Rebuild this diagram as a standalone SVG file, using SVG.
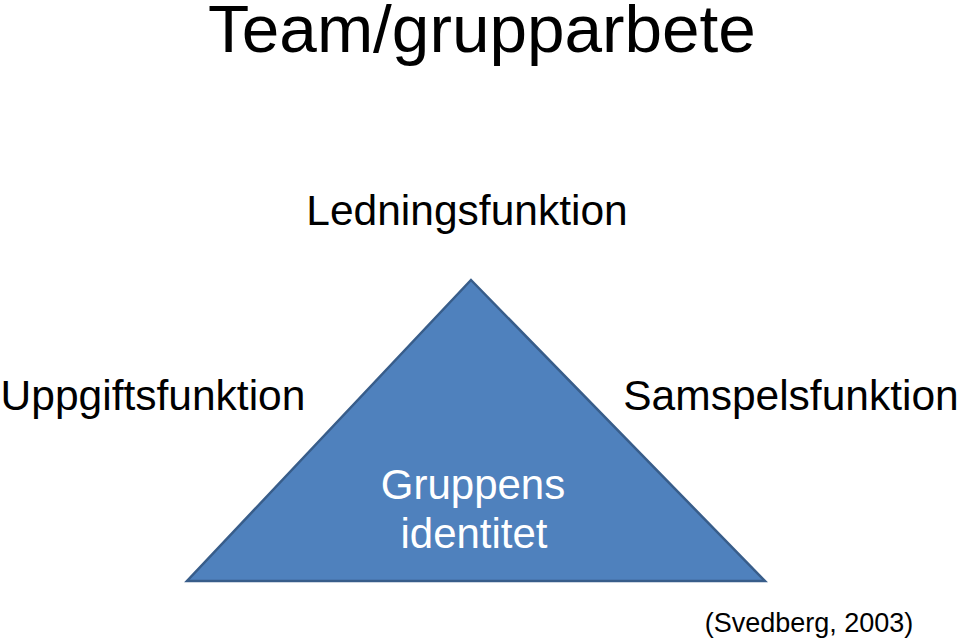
<svg xmlns="http://www.w3.org/2000/svg" width="960" height="641" viewBox="0 0 960 641">
<style>
text{font-family:"Liberation Sans",Arial,sans-serif;fill:#000;text-anchor:middle}
.lbl{font-size:42.5px}
.inner{font-size:42px;fill:#fff}
</style>
<rect width="960" height="641" fill="#fff"/>
<text x="482" y="52" style="font-size:67.5px">Team/grupparbete</text>
<g id="triangle">
<polygon points="471,280 765,581 187,581" fill="#4F81BD" stroke="#385D8A" stroke-width="2.5" stroke-linejoin="miter"/>
<text class="inner" x="473" y="499">Gruppens</text>
<text class="inner" x="474" y="548">identitet</text>
</g>
<g id="ledning"><text class="lbl" x="467" y="225">Ledningsfunktion</text></g>
<g id="uppgift"><text class="lbl" x="153" y="410">Uppgiftsfunktion</text></g>
<g id="samspel"><text class="lbl" x="791" y="410">Samspelsfunktion</text></g>
<g id="connectors"></g>
<text x="809" y="632" style="font-size:27px">(Svedberg, 2003)</text>
</svg>
